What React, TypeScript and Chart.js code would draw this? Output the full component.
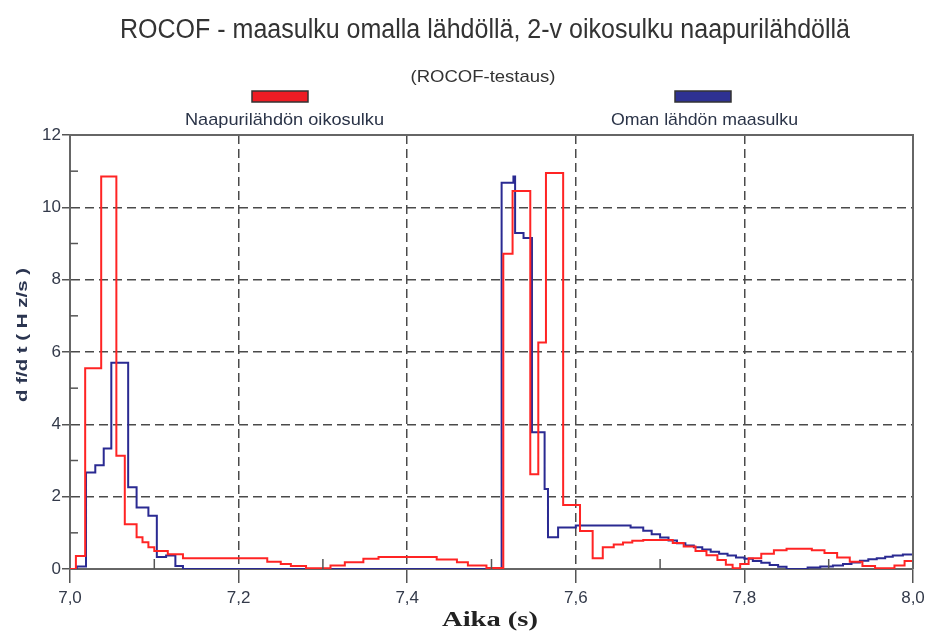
import React, { useEffect, useRef } from 'react';
import { Chart, registerables } from 'chart.js';

Chart.register(...registerables);

const TITLE = 'ROCOF - maasulku omalla lähdöllä, 2-v oikosulku naapurilähdöllä';
const SUBTITLE = '(ROCOF-testaus)';
const SERIES_NAMES = ['Naapurilähdön oikosulku', 'Oman lähdön maasulku'];
const SERIES_COLORS = ['#ff2424', '#2a2a92'];
const LEGEND_FILL = ['#ee1c24', '#2e3192'];
const X_LABEL = 'Aika (s)';
const Y_LABEL = 'd f/d t ( H z/s )';

const X_MIN = 7.0;
const X_MAX = 8.0;
const X_STEP = 0.2;
const Y_MIN = 0;
const Y_MAX = 12;
const Y_STEP = 2;

// Red: "Naapurilähdön oikosulku" (value holds from time t until next t)
const redT = [
  7.0, 7.007, 7.018, 7.037, 7.055, 7.065, 7.079, 7.086, 7.093, 7.1, 7.116, 7.134,
  7.234, 7.25, 7.262, 7.28, 7.309, 7.326, 7.348, 7.366, 7.435, 7.459, 7.472, 7.494,
  7.514, 7.525, 7.546, 7.5555, 7.5646, 7.585, 7.605, 7.62, 7.632, 7.645, 7.656, 7.667,
  7.68, 7.7, 7.715, 7.728, 7.742, 7.755, 7.768, 7.778, 7.786, 7.795, 7.805, 7.82,
  7.835, 7.85, 7.88, 7.895, 7.91, 7.925, 7.94, 7.955, 7.978, 7.99, 8.0,
];
const redV = [
  0.0, 0.36, 5.55, 10.85, 3.13, 1.24, 0.88, 0.74, 0.6, 0.5, 0.41, 0.3,
  0.2, 0.14, 0.08, 0.02, 0.1, 0.19, 0.28, 0.33, 0.26, 0.19, 0.1, 0.03,
  8.72, 10.45, 2.62, 6.26, 10.95, 1.77, 1.05, 0.3, 0.6, 0.68, 0.73, 0.78,
  0.8, 0.8, 0.72, 0.62, 0.5, 0.38, 0.25, 0.12, 0.02, 0.14, 0.3, 0.42,
  0.52, 0.56, 0.52, 0.44, 0.32, 0.2, 0.08, 0.02, 0.1, 0.22, 0.26,
];

// Blue: "Oman lähdön maasulku"
const blueT = [
  7.0, 7.008, 7.019, 7.03, 7.04, 7.049, 7.069, 7.079, 7.093, 7.103, 7.114, 7.125, 7.134,
  7.512, 7.526, 7.528, 7.538, 7.548, 7.563, 7.567, 7.579, 7.6, 7.665, 7.68, 7.69,
  7.7, 7.71, 7.72, 7.73, 7.74, 7.75, 7.76, 7.77, 7.78, 7.79, 7.8, 7.81,
  7.82, 7.83, 7.84, 7.85, 7.875, 7.89, 7.905, 7.917, 7.927, 7.937, 7.947, 7.957,
  7.967, 7.976, 7.988, 8.0,
];
const blueV = [
  0.0, 0.07, 2.67, 2.87, 3.33, 5.7, 2.26, 1.7, 1.47, 0.33, 0.37, 0.08, 0.0,
  10.68, 10.85, 9.29, 9.15, 3.78, 2.21, 0.88, 1.15, 1.2, 1.15, 1.06, 0.96,
  0.87, 0.79, 0.71, 0.65, 0.6, 0.54, 0.48, 0.42, 0.37, 0.32, 0.28, 0.22,
  0.17, 0.11, 0.06, 0.0, 0.04, 0.07, 0.1, 0.14, 0.18, 0.23, 0.27, 0.3,
  0.34, 0.37, 0.4, 0.43,
];

const NARROW = "'Liberation Sans Narrow', 'Arial Narrow', 'Liberation Sans', Arial, sans-serif";

function fitText(
  ctx: CanvasRenderingContext2D,
  text: string,
  cx: number,
  baseY: number,
  targetW: number,
  font: string,
  color: string,
  rotate = 0
) {
  ctx.save();
  ctx.font = font;
  ctx.fillStyle = color;
  ctx.textAlign = 'center';
  ctx.textBaseline = rotate ? 'middle' : 'alphabetic';
  const w = ctx.measureText(text).width || 1;
  const s = targetW / w;
  ctx.translate(cx, baseY);
  if (rotate) ctx.rotate(rotate);
  ctx.scale(s, 1);
  ctx.fillText(text, 0, 0);
  ctx.restore();
}

const overlayPlugin = {
  id: 'overlay',
  afterDraw(chart: any) {
    const { ctx, chartArea: a, scales } = chart;
    const xs = scales.x;
    const ys = scales.y;
    ctx.save();
    const line = (x1: number, y1: number, x2: number, y2: number) => {
      ctx.beginPath();
      ctx.moveTo(x1, y1);
      ctx.lineTo(x2, y2);
      ctx.stroke();
    };
    // minor inward ticks
    ctx.strokeStyle = '#555';
    ctx.lineWidth = 1.5;
    for (let v = Y_MIN + 1; v < Y_MAX; v += 2) {
      const py = ys.getPixelForValue(v);
      line(a.left, py, a.left + 8, py);
    }
    for (let k = 1; k < 10; k += 2) {
      const px = xs.getPixelForValue(X_MIN + k / 10);
      line(px, a.bottom, px, a.bottom - 10);
    }
    // top and right frame
    ctx.strokeStyle = '#666';
    ctx.lineWidth = 2;
    line(a.left, a.top, a.right + 1, a.top);
    line(a.right, a.top, a.right, a.bottom);
    ctx.restore();

    // title + subtitle
    fitText(ctx, TITLE, 485, 38, 730, `27px ${NARROW}`, '#333333');
    fitText(ctx, SUBTITLE, 483, 82, 145, `17px ${NARROW}`, '#333333');

    // legend
    const boxes = [
      { x: 252, cx: 284.5, w: 199 },
      { x: 675, cx: 704.5, w: 187 },
    ];
    boxes.forEach((b, i) => {
      ctx.save();
      ctx.fillStyle = LEGEND_FILL[i];
      ctx.strokeStyle = '#333';
      ctx.lineWidth = 1.5;
      ctx.fillRect(b.x, 91, 56, 11);
      ctx.strokeRect(b.x, 91, 56, 11);
      ctx.restore();
      fitText(ctx, SERIES_NAMES[i], b.cx, 125, b.w, `17px ${NARROW}`, '#2b3448');
    });

    // axis titles
    fitText(ctx, Y_LABEL, 23, 335, 134, `bold 15px ${NARROW}`, '#2b3550', -Math.PI / 2);
    fitText(ctx, X_LABEL, 490, 626, 96, "bold 20px 'Liberation Serif', 'DejaVu Serif', serif", '#222222');
  },
};

export default function App() {
  const ref = useRef<HTMLCanvasElement | null>(null);

  useEffect(() => {
    if (!ref.current) return;
    const redData = redT.map((t, i) => ({ x: t, y: redV[i] }));
    const blueData = blueT.map((t, i) => ({ x: t, y: blueV[i] }));
    const isEdgeX = (v: number) => Math.abs(v - X_MIN) < 1e-6 || Math.abs(v - X_MAX) < 1e-6;
    const isEdgeY = (v: number) => Math.abs(v - Y_MIN) < 1e-6 || Math.abs(v - Y_MAX) < 1e-6;

    const chart = new Chart(ref.current, {
      type: 'line',
      data: {
        datasets: [
          {
            label: SERIES_NAMES[0],
            data: redData,
            borderColor: SERIES_COLORS[0],
            borderWidth: 2,
            pointRadius: 0,
            stepped: 'before',
            fill: false,
          },
          {
            label: SERIES_NAMES[1],
            data: blueData,
            borderColor: SERIES_COLORS[1],
            borderWidth: 2,
            pointRadius: 0,
            stepped: 'before',
            fill: false,
          },
        ],
      },
      options: {
        responsive: false,
        animation: false,
        devicePixelRatio: 1,
        layout: { padding: { top: 135, right: 17, left: 0, bottom: 0 } },
        plugins: {
          legend: { display: false },
          title: { display: false },
          tooltip: { enabled: false },
        },
        scales: {
          x: {
            type: 'linear',
            min: X_MIN,
            max: X_MAX,
            afterFit: (s: any) => {
              s.height = 64;
            },
            ticks: {
              stepSize: X_STEP,
              padding: 5,
              color: '#333a4a',
              font: { family: NARROW, size: 17 },
              maxRotation: 0,
              callback: (v: any) => Number(v).toFixed(1).replace('.', ','),
            },
            grid: {
              color: (c: any) => (c.tick && isEdgeX(c.tick.value) ? 'rgba(0,0,0,0)' : '#4a4a4a'),
              lineWidth: 1.5,
              tickColor: '#555',
              tickLength: 14,
              tickWidth: 1.5,
              tickBorderDash: [],
            },
            border: { display: true, color: '#666', width: 2, dash: [9, 5] },
          },
          y: {
            type: 'linear',
            min: Y_MIN,
            max: Y_MAX,
            afterFit: (s: any) => {
              s.width = 70;
            },
            ticks: {
              stepSize: Y_STEP,
              padding: 1,
              color: '#333a4a',
              font: { family: NARROW, size: 17 },
            },
            grid: {
              color: (c: any) => (c.tick && isEdgeY(c.tick.value) ? 'rgba(0,0,0,0)' : '#4a4a4a'),
              lineWidth: 1.5,
              tickColor: '#555',
              tickLength: 8,
              tickWidth: 1.5,
              tickBorderDash: [],
            },
            border: { display: true, color: '#666', width: 2, dash: [9, 5] },
          },
        },
      },
      plugins: [overlayPlugin],
    } as any);

    return () => chart.destroy();
  }, []);

  return (
    <div style={{ position: 'absolute', left: 0, top: 0, width: 930, height: 633, background: '#fff' }}>
      <canvas ref={ref} width={930} height={633} />
    </div>
  );
}
